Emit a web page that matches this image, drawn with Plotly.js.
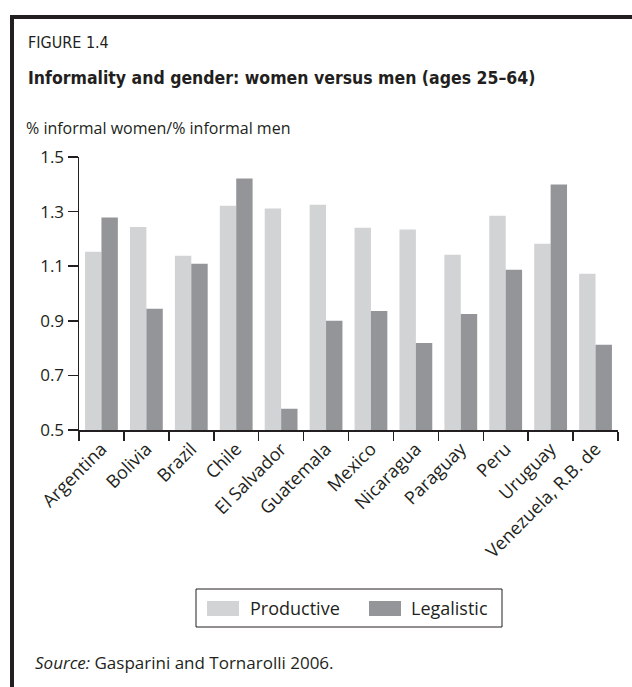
<!DOCTYPE html>
<html>
<head>
<meta charset="utf-8">
<script src="https://cdn.plot.ly/plotly-3.0.1.min.js"></script>
<style>
  html, body { margin: 0; padding: 0; background: #fff; }
  #wrap { position: relative; width: 632px; height: 687px; overflow: hidden; }
  #chart { position: absolute; left: 0; top: 0; width: 632px; height: 687px; }
  #frame { position: absolute; left: 10px; top: 15px; width: 640px; height: 700px;
           border-top: 4px solid #231f20; border-left: 4px solid #231f20; pointer-events: none; }
</style>
</head>
<body>
<div id="wrap">
  <div id="chart"></div>
  <div id="frame"></div>
</div>
<script>
const countries = ["Argentina", "Bolivia", "Brazil", "Chile", "El Salvador", "Guatemala",
  "Mexico", "Nicaragua", "Paraguay", "Peru", "Uruguay", "Venezuela, R.B. de"];
const productive = [1.153, 1.244, 1.138, 1.321, 1.311, 1.325, 1.241, 1.234, 1.142, 1.285, 1.182, 1.072];
const legalistic = [1.278, 0.944, 1.109, 1.421, 0.578, 0.900, 0.936, 0.819, 0.925, 1.087, 1.399, 0.812];
const seriesNames = ["Productive", "Legalistic"];
const yTicks = [0.5, 0.7, 0.9, 1.1, 1.3, 1.5];
const figureLabel = "FIGURE 1.4";
const titleText = "Informality and gender: women versus men (ages 25–64)";
const yTitle = "% informal women/% informal men";
const sourceText = "<i>Source:</i> Gasparini and Tornarolli 2006.";

const W = 632, H = 687;
const L = 79, R = 14, T = 157, B = 257;
const pw = W - L - R, ph = H - T - B;
const px = x => (x - L) / pw;
const py = y => (H - B - y) / ph;

const ink = "#231f20";
const light = "#d1d3d4", dark = "#939598";
const bodyFont = "Open Sans, DejaVu Sans, sans-serif";
const narrow = "Liberation Sans Narrow, DejaVu Sans Condensed, sans-serif";

const traces = [
  { type: "bar", name: seriesNames[0], x: countries, y: productive,
    marker: { color: light, line: { width: 0 } }, showlegend: false, hoverinfo: "x+y" },
  { type: "bar", name: seriesNames[1], x: countries, y: legalistic,
    marker: { color: dark, line: { width: 0 } }, showlegend: false, hoverinfo: "x+y" }
];

const annotations = [
  { text: figureLabel, x: px(26), y: py(43), xref: "paper", yref: "paper", xanchor: "left", yanchor: "middle",
    showarrow: false, font: { family: narrow, size: 16, color: ink } },
  { text: "<b>" + titleText + "</b>", x: px(26), y: py(78), xref: "paper", yref: "paper", xanchor: "left", yanchor: "middle",
    showarrow: false, font: { family: narrow, size: 17.5, color: ink } },
  { text: yTitle, x: px(24), y: py(128), xref: "paper", yref: "paper", xanchor: "left", yanchor: "middle",
    showarrow: false, font: { family: bodyFont, size: 16, color: ink } },
  { text: sourceText, x: px(33), y: py(662), xref: "paper", yref: "paper", xanchor: "left", yanchor: "middle",
    showarrow: false, font: { family: bodyFont, size: 17, color: ink } },
  { text: seriesNames[0], x: px(248), y: py(608), xref: "paper", yref: "paper", xanchor: "left", yanchor: "middle",
    showarrow: false, font: { family: bodyFont, size: 18, color: ink } },
  { text: seriesNames[1], x: px(409), y: py(608), xref: "paper", yref: "paper", xanchor: "left", yanchor: "middle",
    showarrow: false, font: { family: bodyFont, size: 18, color: ink } }
];

const shapes = [
  { type: "rect", xref: "paper", yref: "paper", x0: px(196), x1: px(502), y0: py(589), y1: py(627),
    line: { color: ink, width: 1 }, fillcolor: "rgba(0,0,0,0)" },
  { type: "rect", xref: "paper", yref: "paper", x0: px(207), x1: px(239), y0: py(601), y1: py(616),
    line: { width: 0 }, fillcolor: light },
  { type: "rect", xref: "paper", yref: "paper", x0: px(369), x1: px(401), y0: py(601), y1: py(616),
    line: { width: 0 }, fillcolor: dark }
];

const layout = {
  width: W, height: H,
  margin: { l: L, r: R, t: T, b: B, pad: 0 },
  paper_bgcolor: "#fff", plot_bgcolor: "#fff",
  barmode: "group", bargap: 0.27, bargroupgap: 0,
  showlegend: false,
  font: { family: bodyFont, color: ink },
  xaxis: {
    type: "category", showgrid: false, zeroline: false,
    showline: true, linecolor: ink, linewidth: 1.5,
    ticks: "outside", tickson: "boundaries", ticklen: 9, tickwidth: 1.5, tickcolor: ink,
    tickangle: -45, tickfont: { family: bodyFont, size: 18, color: ink }, automargin: false
  },
  yaxis: {
    range: [0.5, 1.5], tickvals: yTicks, ticktext: yTicks.map(v => v.toFixed(1)),
    showgrid: false, zeroline: false,
    showline: true, linecolor: ink, linewidth: 1.5,
    ticks: "outside", ticklen: 10, tickwidth: 1.5, tickcolor: ink,
    tickfont: { family: bodyFont, size: 17, color: ink }, automargin: false
  },
  annotations: annotations,
  shapes: shapes
};

Plotly.newPlot("chart", traces, layout, { staticPlot: true, displayModeBar: false });
</script>
</body>
</html>
